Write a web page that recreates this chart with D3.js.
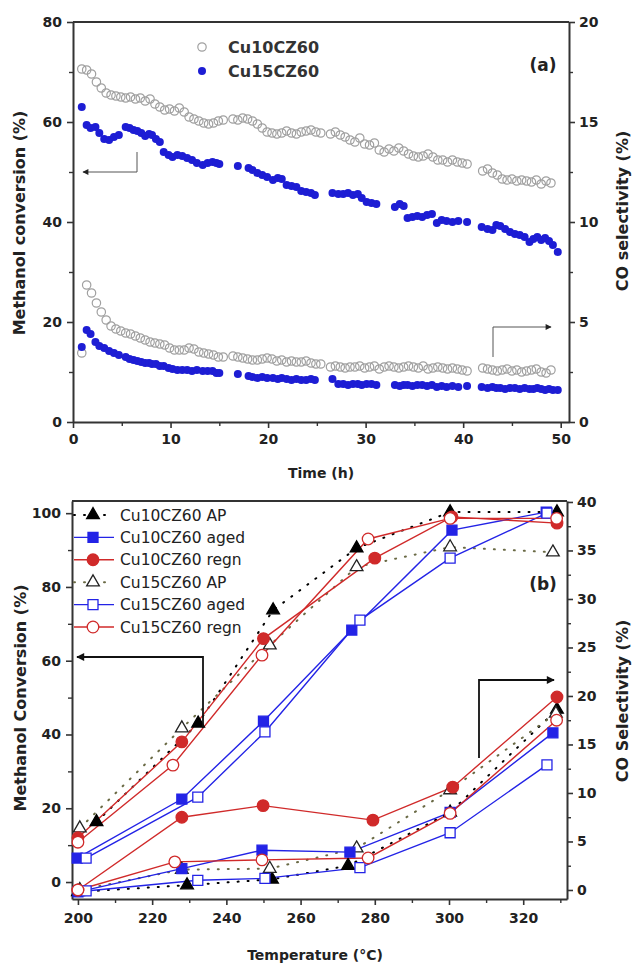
<!DOCTYPE html>
<html><head><meta charset="utf-8">
<script src="https://cdn.jsdelivr.net/npm/d3@7"></script>
<style>
body{margin:0;background:#fff;}
svg{display:block;font-family:"DejaVu Sans",sans-serif;}
</style></head><body>
<svg id="c" width="633" height="964"></svg>
<script>
// ---------- (a) time-on-stream data ----------
const timeCu10 = [
 0.9,1.4,1.9,2.4,2.9,3.4,3.9,4.4,4.9,5.4,
 5.9,6.4,6.9,7.4,7.9,8.4,8.9,9.4,9.9,10.4,
 10.9,11.4,11.9,12.4,12.9,13.4,13.9,14.4,14.9,15.4,
 16.4,16.9,17.4,17.9,18.4,18.9,19.4,19.9,20.4,20.9,
 21.4,21.9,22.4,22.9,23.4,23.9,24.4,24.9,25.4,26.4,
 26.9,27.4,27.9,28.4,28.9,29.4,29.9,30.4,30.9,31.4,
 31.9,32.4,32.9,33.4,33.9,34.4,34.9,35.4,35.9,36.4,
 36.9,37.4,37.9,38.4,38.9,39.4,39.9,40.4,42.0,42.5,
 43.0,43.5,44.0,44.5,45.0,45.5,46.0,46.5,47.0,47.5,
 48.0,48.5,49.0];
const convCu10 = [
 70.6,70.4,69.6,68.0,66.8,65.8,65.4,65.2,65.0,64.8,
 65.0,64.6,64.8,64.2,64.6,63.6,63.0,62.4,62.6,62.2,
 62.8,62.0,61.0,60.6,60.2,59.8,59.6,59.8,60.2,60.4,
 60.6,60.4,60.8,60.6,60.2,59.6,58.8,58.0,57.8,57.6,
 57.8,58.2,57.8,57.6,58.0,58.2,58.4,58.0,57.8,57.6,
 58.0,57.4,57.0,56.4,56.0,56.8,55.6,55.4,55.8,54.4,
 54.0,54.6,54.2,54.8,54.2,53.6,53.2,53.0,53.2,53.6,
 53.0,52.4,52.4,52.0,52.4,52.0,51.8,51.6,50.2,50.6,
 49.8,49.4,48.6,48.4,48.6,48.2,48.4,48.2,48.0,48.4,
 47.6,48.2,47.8];
const selCu10 = [
 3.45,6.85,6.45,5.95,5.5,5.1,4.8,4.65,4.55,4.45,
 4.4,4.3,4.2,4.1,4.0,3.95,3.9,3.85,3.7,3.6,
 3.6,3.6,3.7,3.65,3.5,3.45,3.4,3.35,3.25,3.25,
 3.3,3.25,3.2,3.15,3.1,3.1,3.15,3.2,3.15,3.05,
 3.1,3.0,3.05,3.0,3.0,3.05,2.95,2.9,2.9,2.75,
 2.8,2.75,2.7,2.75,2.75,2.8,2.7,2.75,2.8,2.65,
 2.75,2.8,2.75,2.7,2.75,2.8,2.75,2.7,2.8,2.65,
 2.7,2.75,2.7,2.65,2.7,2.65,2.6,2.55,2.7,2.65,
 2.6,2.55,2.6,2.65,2.55,2.6,2.5,2.55,2.6,2.65,
 2.5,2.45,2.6];
const timeCu15 = [
 0.9,1.4,1.8,2.3,2.7,3.2,3.7,4.2,4.7,5.4,
 5.8,6.2,6.6,7.0,7.4,7.8,8.1,8.5,8.9,9.3,
 9.8,10.2,10.7,11.2,11.7,12.2,12.7,13.3,13.8,14.3,
 14.7,15.0,16.9,18.0,18.4,18.9,19.4,19.9,20.5,21.0,
 21.4,21.9,22.4,22.9,23.4,23.9,24.4,24.8,26.6,27.2,
 27.7,28.2,28.7,29.2,29.6,30.1,30.6,31.1,33.0,33.5,
 33.9,34.3,34.8,35.3,35.8,36.3,36.8,37.3,37.8,38.3,
 38.9,39.5,40.4,41.9,42.5,43.0,43.4,43.8,44.3,44.8,
 45.3,45.8,46.3,46.8,47.2,47.6,48.0,48.4,48.8,49.2,
 49.7];
const convCu15 = [
 63.0,59.4,58.8,59.0,57.8,56.6,56.4,57.0,57.4,59.0,
 58.8,58.4,58.2,57.8,57.2,57.6,57.4,56.6,56.0,54.0,
 53.4,53.0,53.4,53.2,52.8,52.4,51.8,51.4,51.8,52.0,
 51.8,51.6,51.2,50.8,50.4,49.8,49.4,49.0,48.4,48.8,
 48.6,47.4,47.2,47.0,46.2,46.0,45.8,45.4,45.8,45.6,
 45.6,45.8,45.4,45.6,44.8,44.0,43.8,43.6,43.0,43.6,
 43.2,40.8,41.0,41.2,41.0,41.4,41.6,39.8,40.4,40.2,
 40.0,40.2,40.0,39.0,38.6,38.4,39.4,39.2,38.6,38.0,
 37.6,37.4,37.0,36.0,36.6,37.0,36.4,36.8,36.2,35.4,
 34.0];
const selCu15 = [
 3.75,4.6,4.4,4.0,3.8,3.7,3.55,3.45,3.35,3.25,
 3.15,3.1,3.05,3.0,2.95,2.95,2.9,2.9,2.8,2.8,
 2.7,2.65,2.6,2.6,2.6,2.55,2.6,2.55,2.55,2.55,
 2.45,2.45,2.4,2.3,2.25,2.2,2.25,2.2,2.2,2.15,
 2.2,2.15,2.1,2.15,2.1,2.1,2.15,2.1,2.15,1.9,
 1.9,1.85,1.9,1.9,1.85,1.9,1.9,1.85,1.85,1.8,
 1.85,1.85,1.8,1.85,1.85,1.8,1.85,1.75,1.8,1.75,
 1.8,1.75,1.8,1.75,1.7,1.75,1.7,1.7,1.65,1.7,
 1.7,1.65,1.7,1.65,1.65,1.7,1.65,1.6,1.65,1.6,
 1.6];
const legendA = ["Cu10CZ60","Cu15CZ60"];
const ticksTime = [0,10,20,30,40,50];
const ticksConvA = [0,20,40,60,80];
const ticksSelA = [0,5,10,15,20];

// ---------- (b) temperature data ----------
const seriesNames = ["Cu10CZ60 AP","Cu10CZ60 aged","Cu10CZ60 regn","Cu15CZ60 AP","Cu15CZ60 aged","Cu15CZ60 regn"];
const tempAP10  = [205,232.4,252.6,275.1,300.3,329.1];
const convAP10  = [16.3,43.0,73.7,90.5,100.3,100.3];
const selTAP10  = [200,229.4,252.3,272.8,300.3,329.1];
const selAP10   = [-0.2,0.5,1.1,2.5,8.0,18.6];
const tempAg10  = [199.8,228,250,273.8,300.8,326.2];
const convAg10  = [6.5,22.5,43.6,68.3,95.4,100.3];
const selTAg10  = [200,228,249.6,273.3,300.3,328];
const selAg10   = [-0.2,2.2,4.1,3.9,8.0,16.2];
const tempRg10  = [200,228,250,280,300.8,329.1];
const convRg10  = [12.0,38.0,66.0,87.8,99.0,97.3];
const selTRg10  = [200,228,249.9,279.5,301,329.1];
const selRg10   = [0,7.5,8.7,7.2,10.6,19.9];
const tempAP15  = [200.5,228,251.7,275.1,300.3,328];
const convAP15  = [14.6,41.7,64.2,85.4,90.8,89.4];
const selTAP15  = [200.5,228,251.7,275.1,300.3,328.8];
const selAP15   = [0,2.1,2.2,4.3,10.3,18.2];
const tempAg15  = [202.2,232.3,250.4,276,300.3,326.4];
const convAg15  = [6.5,23.0,40.7,71.0,87.8,100.0];
const selTAg15  = [202.2,232.3,250.4,276,300.3,326.4];
const selAg15   = [-0.1,1.0,1.2,2.3,5.9,12.9];
const tempRg15  = [200,225.6,249.6,278.2,300.3,329];
const convRg15  = [10.8,31.7,61.5,93.0,98.6,98.6];
const selTRg15  = [200,226.1,249.6,278.2,300.3,329];
const selRg15   = [0,2.9,3.1,3.3,7.9,17.5];
const ticksTemp = [200,220,240,260,280,300,320];
const ticksConvB = [0,20,40,60,80,100];
const ticksSelB = [0,5,10,15,20,25,30,35,40];

// ---------- drawing ----------
const svg = d3.select("#c");
svg.append("rect").attr("width",633).attr("height",964).attr("fill","#fff");
const AX = "#333";
const FONT = "DejaVu Sans";

function styleAxis(g, size){
  g.attr("font-family",FONT).attr("font-size",size||14).attr("font-weight","bold");
  g.select(".domain").attr("stroke",AX).attr("stroke-width",2);
  g.selectAll(".tick line").attr("stroke",AX).attr("stroke-width",1.6);
  g.selectAll(".tick text").attr("fill","#222");
}
function minor(g){
  g.select(".domain").remove();
  g.selectAll(".tick line").attr("stroke",AX).attr("stroke-width",1.4);
}

// ===== Panel (a) =====
const xA = d3.scaleLinear().domain([0,50.85]).range([73,569]);
const yAL = d3.scaleLinear().domain([0,80]).range([422,22]);
const yAR = d3.scaleLinear().domain([0,20]).range([422,22]);

svg.append("line").attr("x1",73).attr("x2",569).attr("y1",22).attr("y2",22).attr("stroke",AX).attr("stroke-width",2);
svg.append("g").attr("transform","translate(0,422)").call(d3.axisBottom(xA).tickValues(d3.range(5,50,10)).tickSize(4).tickFormat("")).call(minor);
svg.append("g").attr("transform","translate(73,0)").call(d3.axisLeft(yAL).tickValues(d3.range(10,80,20)).tickSize(4).tickFormat("")).call(minor);
svg.append("g").attr("transform","translate(569,0)").call(d3.axisRight(yAR).tickValues(d3.range(2.5,20,5)).tickSize(4).tickFormat("")).call(minor);
svg.append("g").attr("transform","translate(0,422)").call(d3.axisBottom(xA).tickValues(ticksTime).tickSize(6).tickPadding(6).tickSizeOuter(0)).call(g=>styleAxis(g));
svg.append("g").attr("transform","translate(73,0)").call(d3.axisLeft(yAL).tickValues(ticksConvA).tickSize(6).tickPadding(5).tickSizeOuter(0)).call(g=>styleAxis(g));
svg.append("g").attr("transform","translate(569,0)").call(d3.axisRight(yAR).tickValues(ticksSelA).tickSize(6).tickPadding(4).tickSizeOuter(0)).call(g=>styleAxis(g));

const BLUE_A = "#1d1dd4", GREY_A = "#a0a0a0";
function openCircles(t, v, y){
  svg.append("g").selectAll("circle").data(t.map((d,i)=>[d,v[i]])).join("circle")
    .attr("cx",d=>xA(d[0])).attr("cy",d=>y(d[1])).attr("r",4.2)
    .attr("fill","none").attr("stroke",GREY_A).attr("stroke-width",1.2);
}
function fillCircles(t, v, y){
  svg.append("g").selectAll("circle").data(t.map((d,i)=>[d,v[i]])).join("circle")
    .attr("cx",d=>xA(d[0])).attr("cy",d=>y(d[1])).attr("r",4)
    .attr("fill",BLUE_A);
}
openCircles(timeCu10, convCu10, yAL);
openCircles(timeCu10, selCu10, yAR);
fillCircles(timeCu15, convCu15, yAL);
fillCircles(timeCu15, selCu15, yAR);

// legend (a)
svg.append("circle").attr("cx",202).attr("cy",47).attr("r",4.2).attr("fill","none").attr("stroke",GREY_A).attr("stroke-width",1.2);
svg.append("circle").attr("cx",202).attr("cy",71).attr("r",4).attr("fill",BLUE_A);
legendA.forEach((n,i)=>{
  svg.append("text").attr("x",228).attr("y",53+i*24).text(n)
    .attr("font-family",FONT).attr("font-weight","bold").attr("font-size",16).attr("fill","#333");
});
svg.append("text").attr("x",543).attr("y",71).attr("text-anchor","middle").text("(a)")
  .attr("font-family",FONT).attr("font-weight","bold").attr("font-size",17).attr("fill","#222");

// arrows (a)
const defs = svg.append("defs");
defs.append("marker").attr("id","ah").attr("viewBox","0 0 10 10").attr("refX",9).attr("refY",5)
  .attr("markerWidth",7).attr("markerHeight",6).attr("orient","auto-start-reverse").attr("markerUnits","userSpaceOnUse")
  .append("path").attr("d","M0,0L10,5L0,10z").attr("fill","#222");
defs.append("marker").attr("id","ah2").attr("viewBox","0 0 10 10").attr("refX",9).attr("refY",5)
  .attr("markerWidth",10).attr("markerHeight",8).attr("orient","auto-start-reverse").attr("markerUnits","userSpaceOnUse")
  .append("path").attr("d","M0,0L10,5L0,10z").attr("fill","#111");
svg.append("path").attr("d","M137,152V172H83").attr("fill","none").attr("stroke","#555").attr("stroke-width",1).attr("marker-end","url(#ah)");
svg.append("path").attr("d","M493,357V327H551").attr("fill","none").attr("stroke","#555").attr("stroke-width",1).attr("marker-end","url(#ah)");

// titles (a)
function title(txt, x, y, rot, size){
  svg.append("text").attr("transform",`translate(${x},${y})`+(rot?" rotate(-90)":""))
    .attr("text-anchor","middle").text(txt)
    .attr("font-family",FONT).attr("font-weight","bold").attr("font-size",size).attr("fill","#222");
}
title("Methanol conversion (%)", 25, 223, true, 16);
title("CO selectivity (%)", 628, 211, true, 16);
title("Time (h)", 321, 478, false, 14);

// ===== Panel (b) =====
const xB = d3.scaleLinear().domain([198.4,331.8]).range([72,567]);
const yBL = d3.scaleLinear().domain([-4.6,103.3]).range([899,501]);
const yBR = d3.scaleLinear().domain([-0.93,40.1]).range([899,501]);

svg.append("line").attr("x1",72).attr("x2",567).attr("y1",501).attr("y2",501).attr("stroke",AX).attr("stroke-width",2);
svg.append("g").attr("transform","translate(0,899)").call(d3.axisBottom(xB).tickValues(d3.range(210,331,20)).tickSize(4).tickFormat("")).call(minor);
svg.append("g").attr("transform","translate(72,0)").call(d3.axisLeft(yBL).tickValues(d3.range(10,100,20)).tickSize(4).tickFormat("")).call(minor);
svg.append("g").attr("transform","translate(567,0)").call(d3.axisRight(yBR).tickValues(d3.range(2.5,40,5)).tickSize(4).tickFormat("")).call(minor);
svg.append("g").attr("transform","translate(0,899)").call(d3.axisBottom(xB).tickValues(ticksTemp).tickSize(6).tickPadding(8).tickSizeOuter(0)).call(g=>styleAxis(g));
svg.append("g").attr("transform","translate(72,0)").call(d3.axisLeft(yBL).tickValues(ticksConvB).tickSize(6).tickPadding(5).tickSizeOuter(0)).call(g=>styleAxis(g));
svg.append("g").attr("transform","translate(567,0)").call(d3.axisRight(yBR).tickValues(ticksSelB).tickSize(6).tickPadding(4).tickSizeOuter(0)).call(g=>styleAxis(g));

const BLUE = "#2323e6", RED = "#d02a2a", BLK = "#000", OLIVE = "#6a6a45";
const styles = [
  {sym:d3.symbolTriangle, size:70, fill:BLK, stroke:BLK, line:BLK, dash:"1,9", w:2},
  {sym:d3.symbolSquare, size:100, fill:BLUE, stroke:BLUE, line:BLUE, dash:null, w:1.4},
  {sym:d3.symbolCircle, size:105, fill:RED, stroke:RED, line:RED, dash:null, w:1.4},
  {sym:d3.symbolTriangle, size:70, fill:"#fff", stroke:"#222", line:OLIVE, dash:"1,9", w:2},
  {sym:d3.symbolSquare, size:100, fill:"#fff", stroke:BLUE, line:BLUE, dash:null, w:1.4},
  {sym:d3.symbolCircle, size:105, fill:"#fff", stroke:RED, line:RED, dash:null, w:1.4}
];
const dataB = [
  [tempAP10,convAP10,selTAP10,selAP10],
  [tempAg10,convAg10,selTAg10,selAg10],
  [tempRg10,convRg10,selTRg10,selRg10],
  [tempAP15,convAP15,selTAP15,selAP15],
  [tempAg15,convAg15,selTAg15,selAg15],
  [tempRg15,convRg15,selTRg15,selRg15]
];
const order = [0,3,1,4,2,5];
function drawLine(pts, st){
  const p = svg.append("path").attr("d",d3.line()(pts)).attr("fill","none")
    .attr("stroke",st.line).attr("stroke-width",st.w);
  if(st.dash) p.attr("stroke-dasharray",st.dash).attr("stroke-linecap","round");
}
function drawMarkers(pts, st){
  svg.append("g").selectAll("path").data(pts).join("path")
    .attr("transform",d=>`translate(${d[0]},${d[1]})`)
    .attr("d",d3.symbol(st.sym, st.size)())
    .attr("fill",st.fill).attr("stroke",st.stroke).attr("stroke-width",1.3);
}
const ptsB = dataB.map(([t,c,st,s])=>({
  conv: t.map((d,i)=>[xB(d), yBL(c[i])]),
  sel: st.map((d,i)=>[xB(d), yBR(s[i])])
}));
order.forEach(k=>{ drawLine(ptsB[k].conv, styles[k]); drawLine(ptsB[k].sel, styles[k]); });
order.forEach(k=>{ drawMarkers(ptsB[k].conv, styles[k]); drawMarkers(ptsB[k].sel, styles[k]); });

// legend (b)
seriesNames.forEach((n,i)=>{
  const y = 515 + i*22.4, st = styles[i];
  drawLine([[74,y],[114,y]], st);
  drawMarkers([[93,y]], st);
  svg.append("text").attr("x",120).attr("y",y+5.5).text(n)
    .attr("font-family",FONT).attr("font-size",15.5).attr("fill","#222");
});
svg.append("text").attr("x",543).attr("y",590).attr("text-anchor","middle").text("(b)")
  .attr("font-family",FONT).attr("font-weight","bold").attr("font-size",17).attr("fill","#222");

// arrows (b)
svg.append("path").attr("d","M203,728V657H77").attr("fill","none").attr("stroke","#111").attr("stroke-width",1.8).attr("marker-end","url(#ah2)");
svg.append("path").attr("d","M479,758V680H554").attr("fill","none").attr("stroke","#111").attr("stroke-width",1.8).attr("marker-end","url(#ah2)");

title("Methanol Conversion (%)", 26, 698, true, 16);
title("CO Selectivity (%)", 628, 701, true, 16);
title("Temperature (°C)", 315, 960, false, 14);
</script>
</body></html>
